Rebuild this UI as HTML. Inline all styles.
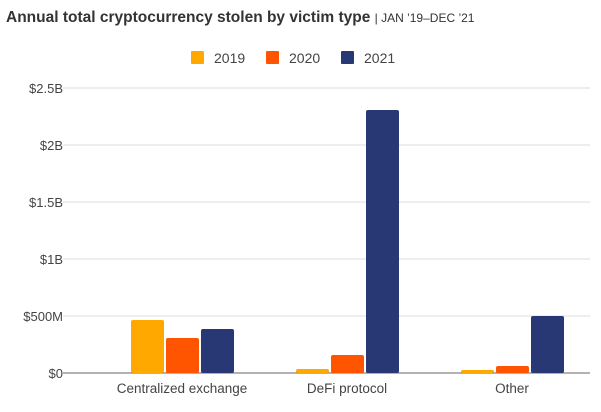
<!DOCTYPE html>
<html><head><meta charset="utf-8"><style>
body{margin:0;background:#fff;font-family:"Liberation Sans",sans-serif}
</style></head><body>
<svg width="601" height="407" xmlns="http://www.w3.org/2000/svg">
<text x="6" y="22" font-size="15.5" font-weight="bold" fill="#333">Annual total cryptocurrency stolen by victim type <tspan font-weight="normal" font-size="12" fill="#333">| JAN ’19–DEC ’21</tspan></text>
<g id="legend"></g>
<g id="grid"></g><g id="bars"></g><g id="labels"></g>
</svg>
<script>
const categories=["Centralized exchange","DeFi protocol","Other"];
const seriesNames=["2019","2020","2021"];
const v2019=[465,35,26];
const v2020=[307,158,61];
const v2021=[386,2307,500];
const tickValues=[0,500,1000,1500,2000,2500];
const tickLabels=["$0","$500M","$1B","$1.5B","$2B","$2.5B"];
const colors=["#FFA800","#FF5500","#283874"];
const NS="http://www.w3.org/2000/svg";
const y=v=>373-v*(285/2500);
const x=i=>182+i*165;
function mk(t,a,p){const e=document.createElementNS(NS,t);for(const k in a)e.setAttribute(k,a[k]);p.appendChild(e);return e;}
const grid=document.getElementById('grid');
tickValues.forEach((t,i)=>{
 const l=mk('line',{x1:63,x2:590,y1:y(t),y2:y(t),stroke:i?'#ddd':'#666','stroke-width':1},grid);
 
 
 const tx=mk('text',{x:63,y:y(t)+5,'text-anchor':'end','font-size':13,fill:'#444'},grid);
 tx.textContent=tickLabels[i];
 
 
});
const bars=document.getElementById('bars');
[v2019,v2020,v2021].forEach((s,si)=>{
 s.forEach((v,ci)=>{
  const bx=x(ci)-51+si*35;
  const r=mk('rect',{x:bx,y:y(v),width:33,height:373-y(v),fill:colors[si],rx:2},bars);
  
  
 });
});
const labels=document.getElementById('labels');
categories.forEach((c,i)=>{
 const t=mk('text',{x:x(i),y:393,'text-anchor':'middle','font-size':13.5,fill:'#444'},labels);
 t.textContent=c;
 
 
});
const lg=document.getElementById('legend');
seriesNames.forEach((n,i)=>{
 const lx=191+i*75;
 const r=mk('rect',{x:lx,y:51,width:13,height:13,fill:colors[i],rx:1},lg);
 
 
 const t=mk('text',{x:lx+23,y:63,'font-size':14,fill:'#444'},lg);
 t.textContent=n;
 
 
});
</script>
</body></html>
